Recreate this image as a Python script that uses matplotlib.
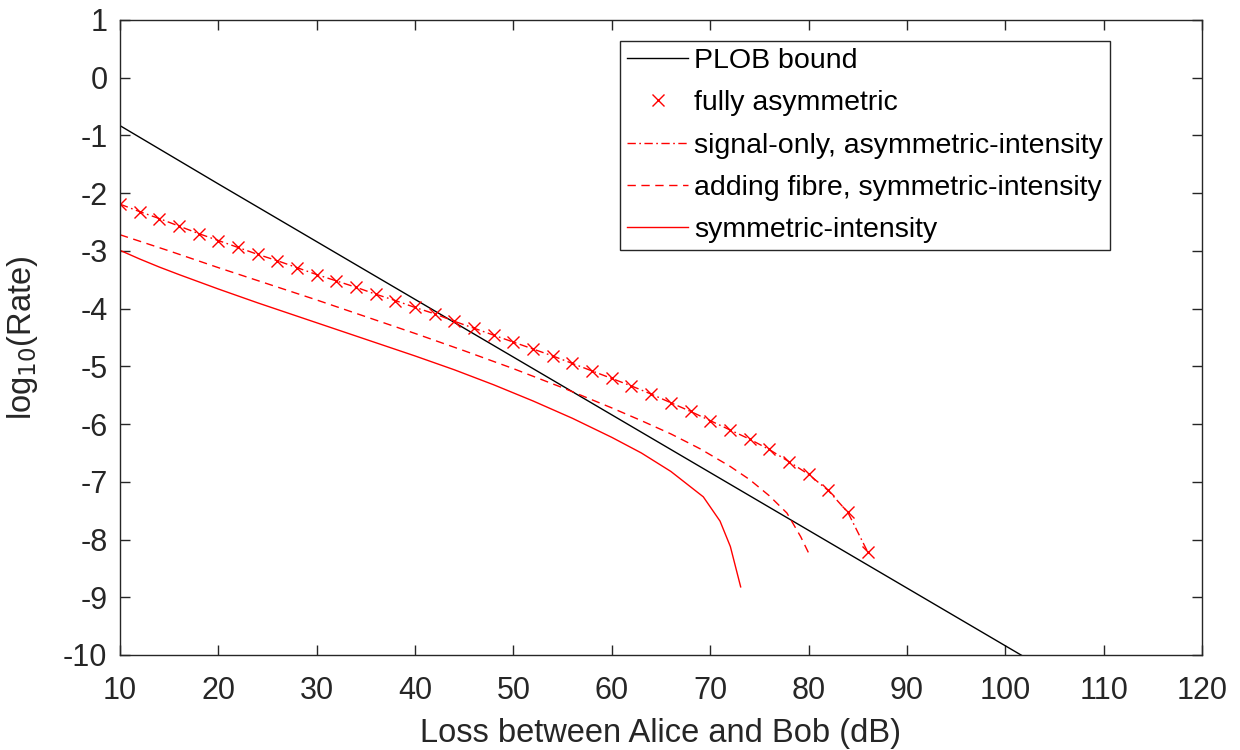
import matplotlib
matplotlib.use("Agg")
import matplotlib.pyplot as plt

plt.rcParams['font.family'] = ['Liberation Sans', 'DejaVu Sans']
plt.rcParams['axes.unicode_minus'] = False

# PLOB bound (read at 10 dB steps)
plob_loss = [10, 20, 30, 40, 50, 60, 70, 80, 90, 100, 110]
plob_rate = [-0.83, -1.84, -2.84, -3.84, -4.84, -5.84, -6.84, -7.84, -8.84, -9.84, -10.84]

# fully asymmetric (markers) / signal-only, asymmetric-intensity (dash-dot)
asym_loss = [10, 12, 14, 16, 18, 20, 22, 24, 26, 28, 30, 32, 34, 36, 38, 40, 42, 44, 46, 48,
             50, 52, 54, 56, 58, 60, 62, 64, 66, 68, 70, 72, 74, 76, 78, 80, 82, 84, 86]
asym_rate = [-2.19, -2.32, -2.44, -2.57, -2.70, -2.82, -2.94, -3.06, -3.17, -3.29,
             -3.41, -3.52, -3.63, -3.75, -3.86, -3.98, -4.09, -4.22, -4.34, -4.46,
             -4.58, -4.70, -4.82, -4.95, -5.08, -5.21, -5.34, -5.48, -5.63, -5.78,
             -5.94, -6.10, -6.26, -6.44, -6.65, -6.87, -7.15, -7.53, -8.21]

# adding fibre, symmetric-intensity (dashed)
fibre_loss = [10, 15, 20, 25, 30, 35, 40, 45, 50, 55, 60, 63, 66, 69, 72, 74, 76,
              77.8, 79.2, 80.2]
fibre_rate = [-2.72, -3.00, -3.29, -3.57, -3.85, -4.14, -4.43, -4.73, -5.04, -5.37,
              -5.72, -5.94, -6.17, -6.43, -6.73, -6.96, -7.24, -7.54, -7.95, -8.30]

# symmetric-intensity (solid)
sym_loss = [10, 12, 14, 16, 20, 24, 28, 32, 36, 40, 44, 48, 52, 56, 60, 63, 66, 69.3,
            71.0, 72.05, 73.1]
sym_rate = [-2.99, -3.14, -3.28, -3.41, -3.66, -3.90, -4.13, -4.36, -4.59, -4.82,
            -5.06, -5.32, -5.60, -5.90, -6.23, -6.50, -6.82, -7.26, -7.68, -8.12, -8.82]

fig = plt.figure(figsize=(12.4, 7.5), dpi=100)
ax = fig.add_axes([120 / 1240, 1 - 655 / 750, 1082 / 1240, 635 / 750])

ax.plot(plob_loss, plob_rate, color='black', lw=1.0, label='PLOB bound')
ax.plot(asym_loss, asym_rate, ls='none', marker='x', color='red', ms=9, mew=1.0,
        label='fully asymmetric')
ax.plot(asym_loss, asym_rate, color='red', ls='-.', lw=1.0,
        dashes=[6, 2.5, 1.2, 2.5], label='signal-only, asymmetric-intensity')
ax.plot(fibre_loss, fibre_rate, color='red', ls='--', lw=1.0, dashes=[6, 4],
        label='adding fibre, symmetric-intensity')
ax.plot(sym_loss, sym_rate, color='red', lw=1.0, label='symmetric-intensity')

ax.set_xlim(10, 120)
ax.set_ylim(-10, 1)
ax.set_xticks(range(10, 121, 10))
ax.set_yticks(range(-10, 2))
ax.tick_params(direction='in', length=7, width=1.0, top=True, right=True,
               labelsize=22, colors='#262626')
ax.tick_params(axis='x', pad=15)
ax.tick_params(axis='y', pad=9)
for s in ax.spines.values():
    s.set_color('#262626')
    s.set_linewidth(1.0)

ax.set_xlabel('Loss between Alice and Bob (dB)', fontsize=23.5, color='#262626',
              labelpad=9)
ax.set_ylabel('log$_{10}$(Rate)', fontsize=23.5, color='#262626', labelpad=17)

leg = ax.legend(loc='upper right', bbox_to_anchor=(0.915, 0.967), fontsize=20.5,
                frameon=True, fancybox=False, edgecolor='#262626', framealpha=1,
                handlelength=2.15, borderpad=0.25, labelspacing=0.57,
                handletextpad=0.2, borderaxespad=0)
leg.get_frame().set_linewidth(1.0)

fig.savefig('out.png', dpi=100)
